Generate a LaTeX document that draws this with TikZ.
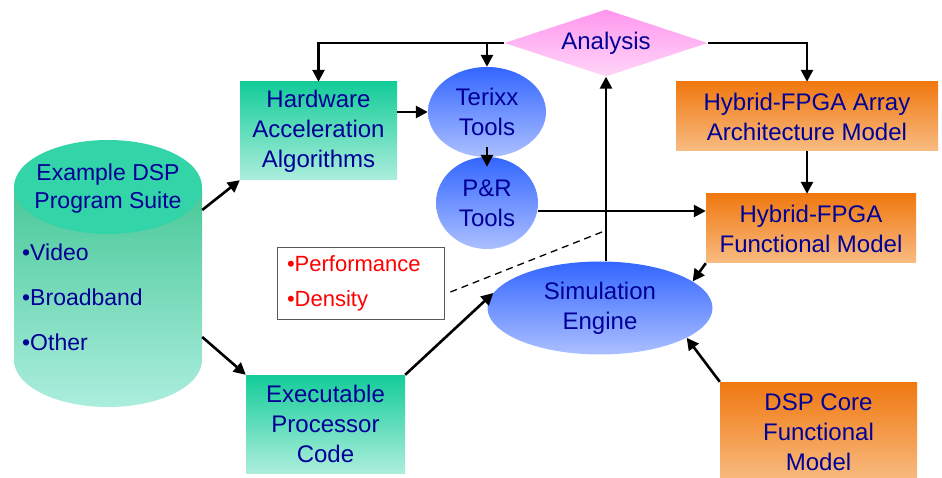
\documentclass[tikz,border=0pt]{standalone}
\usepackage{fontspec}
\setmainfont{Liberation Sans}
\usepackage{tikz}
\usetikzlibrary{shapes,arrows,positioning,arrows.meta}
\usepackage{xcolor}

\definecolor{navytext}{RGB}{0,0,150}
\definecolor{tealtop}{RGB}{20,204,153}
\definecolor{tealbot}{RGB}{172,238,220}
\definecolor{orangetop}{RGB}{240,120,16}
\definecolor{orangebot}{RGB}{248,188,130}
\definecolor{bluetop}{RGB}{51,102,255}
\definecolor{bluebot}{RGB}{172,192,255}
\definecolor{pinktop}{RGB}{255,150,238}
\definecolor{pinkbot}{RGB}{255,214,248}
\definecolor{drumlid}{RGB}{51,212,168}
\definecolor{drumtop}{RGB}{72,200,152}
\definecolor{drumbot}{RGB}{172,238,222}

\begin{document}
\begin{tikzpicture}[x=1pt,y=-1pt]
    \tikzstyle{block} = [rectangle, align=center, text=navytext,
               font=\fontsize{24}{30}\selectfont]
    \tikzstyle{tealblock} = [block, top color=tealtop, bottom color=tealbot]
    \tikzstyle{orangeblock} = [block, top color=orangetop, bottom color=orangebot]
    \tikzstyle{tool} = [ellipse, align=center, text=navytext, inner sep=0pt,
               top color=bluetop, bottom color=bluebot,
               font=\fontsize{24}{30}\selectfont]
    \tikzstyle{line} = [draw, line width=2.6pt, -{Triangle[length=12pt,width=12pt]}]

    \useasboundingbox (0,0) rectangle (942,478);

    % Program suite drum
    \shade[top color=drumtop, bottom color=drumbot] (14,187) -- (14,360)
        arc[start angle=180, end angle=360, x radius=94pt, y radius=47pt]
        -- (202,187) -- cycle;
    \fill[drumlid] (108,187) ellipse [x radius=94pt, y radius=47pt];
    \node (suite) [minimum width=188pt, minimum height=268pt] at (108,274) {};
    \node (suitetitle) [align=center, text=navytext, font=\fontsize{23}{28}\selectfont]
        at (108,189) {Example DSP\\Program Suite};
    \node (suitelist) [anchor=west, align=left, text=navytext, inner sep=0pt,
        font=\fontsize{23}{45}\selectfont] at (22,297) {•Video\\•Broadband\\•Other};

    % Blocks
    \node (hw) [tealblock, minimum width=157pt, minimum height=98pt] at (318.5,131)
        {Hardware\\Acceleration\\Algorithms};
    \node (exec) [tealblock, minimum width=159pt, minimum height=98pt] at (325.5,424)
        {Executable\\Processor\\Code};
    \node (array) [orangeblock, minimum width=262pt, minimum height=69pt] at (807,116.5)
        {Hybrid-FPGA Array\\Architecture Model};
    \node (func) [orangeblock, minimum width=210pt, minimum height=69pt] at (811,228.5)
        {Hybrid-FPGA\\Functional Model};
    \node (dsp) [orangeblock, minimum width=197pt, minimum height=100pt] at (818.5,432)
        {DSP Core\\Functional\\Model};

    \node (terixx) [tool, minimum width=118pt, minimum height=90pt] at (487,112) {Terixx\\Tools};
    \node (pr) [tool, minimum width=102pt, minimum height=92pt] at (487,203) {P\&R\\Tools};
    \node (sim) [tool, minimum width=225pt, minimum height=93pt] at (600,308) {Simulation\\Engine};

    \node (analysis) [diamond, aspect=3, inner sep=0pt, minimum width=203pt, minimum height=67pt,
        top color=pinktop, bottom color=pinkbot, text=navytext,
        font=\fontsize{24}{30}\selectfont] at (606,43) {Analysis};

    \node (perf) [draw=black!65, line width=0.8pt, fill=white, text=red, align=left,
        text width=147pt, inner xsep=10pt, minimum height=72pt,
        font=\fontsize{22}{35}\selectfont] at (360.5,283) {•Performance\\•Density};
    \coordinate (dashend) at (602,232);

    % Connections
    \draw [line] ([yshift=64pt]suite.east) -- (hw.south west);
    \draw [line] ([yshift=-63pt]suite.east) -- (exec.north west);
    \draw [line] (analysis.west) -| (hw.north);
    \draw [line] (analysis.west) -| (terixx.north);
    \draw [line] (analysis.east) -| (array.north);
    \draw [line] (hw.east |- terixx.west) -- (terixx.west);
    \draw [line] ([yshift=10pt]terixx.south) -- ([yshift=-10pt]pr.north);
    \draw [line] ([yshift=-8pt]pr.east) -- ([yshift=-8pt]pr.east -| func.west);
    \draw [line] (array.south) -- (array.south |- func.north);
    \draw [line] (analysis.south |- sim.north) -- (analysis.south);
    \draw [line] (exec.north east) -- (sim.172);
    \draw [line] (func.south west) -- (sim.16);
    \draw [line] (dsp.north west) -- (sim.-19);

    \draw [line width=1.3pt, dash pattern=on 7pt off 5pt]
        ([xshift=6pt,yshift=-9pt]perf.east) -- (dashend);

\end{tikzpicture}
\end{document}
